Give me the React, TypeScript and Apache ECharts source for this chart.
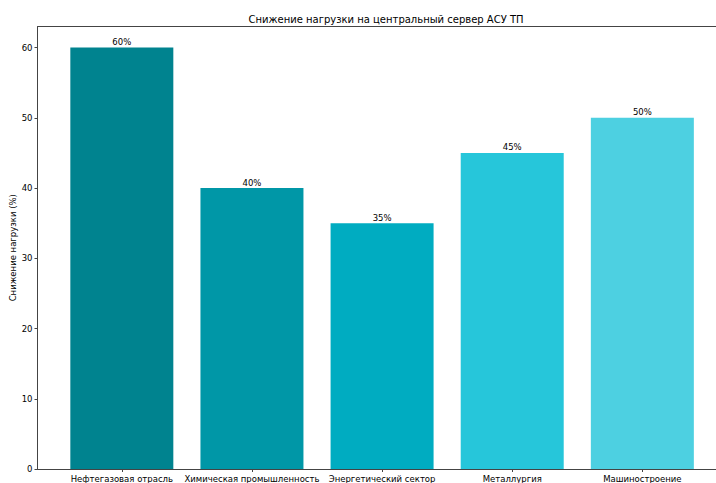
import React, { useEffect, useRef } from "react";
import * as echarts from "echarts";

const categories = [
  "Нефтегазовая отрасль",
  "Химическая промышленность",
  "Энергетический сектор",
  "Металлургия",
  "Машиностроение",
];
const values = [60, 40, 35, 45, 50];
const colors = ["#00838F", "#0097A7", "#00ACC1", "#26C6DA", "#4DD0E1"];
const yTicks = [0, 10, 20, 30, 40, 50, 60];
const xPositions = [0, 1, 2, 3, 4];

export default function App() {
  const ref = useRef<HTMLDivElement>(null);
  useEffect(() => {
    if (!ref.current) return;
    const chart = echarts.init(ref.current, null, { renderer: "svg" });
    const font = "DejaVu Sans";
    chart.setOption({
      animation: false,
      title: {
        text: "Снижение нагрузки на центральный сервер АСУ ТП",
        left: 381,
        textAlign: "center",
        top: 9,
        textStyle: { fontFamily: font, fontSize: 10, fontWeight: "normal", color: "#000" },
      },
      graphic: [
        {
          type: "line",
          shape: { x1: 37.5, y1: 26.5, x2: 716, y2: 26.5 },
          style: { stroke: "#444", lineWidth: 1 },
          silent: true,
        },
      ],
      grid: {
        left: 37.5,
        top: 26.5,
        bottom: 14,
        right: 0,
        containLabel: false,
        outerBoundsMode: "none",
      },
      xAxis: {
        type: "value",
        min: -0.648,
        max: 4.566,
        splitLine: { show: false },
        axisLine: { show: true, onZero: false, lineStyle: { color: "#444" } },
        axisTick: { show: true, customValues: xPositions, length: 3, lineStyle: { color: "#444" } },
        axisLabel: {
          customValues: xPositions,
          formatter: (v: number) => categories[Math.round(v)] ?? "",
          fontFamily: font,
          fontSize: 8.5,
          color: "#000",
          margin: 5,
        },
      },
      yAxis: {
        type: "value",
        min: 0,
        max: 63,
        name: "Снижение нагрузки (%)",
        nameLocation: "middle",
        nameGap: 20,
        nameMoveOverlap: false,
        nameTextStyle: { fontFamily: font, fontSize: 8.5, color: "#000" },
        splitLine: { show: false },
        axisLine: { show: true, onZero: false, lineStyle: { color: "#444" } },
        axisTick: { show: true, customValues: yTicks, length: 3, lineStyle: { color: "#444" } },
        axisLabel: {
          customValues: yTicks,
          fontFamily: font,
          fontSize: 8.5,
          color: "#000",
          margin: 5,
        },
      },
      series: [
        {
          type: "bar",
          barWidth: 103,
          data: values.map((v, i) => ({
            value: [xPositions[i], v],
            itemStyle: { color: colors[i] },
          })),
          label: {
            show: true,
            position: "top",
            distance: 1,
            formatter: (p: any) => p.value[1] + "%",
            fontFamily: font,
            fontSize: 8.5,
            color: "#000",
          },
        },
      ],
    });
    return () => chart.dispose();
  }, []);
  return <div ref={ref} style={{ width: 716, height: 483, position: "absolute", left: 0, top: 0 }} />;
}
